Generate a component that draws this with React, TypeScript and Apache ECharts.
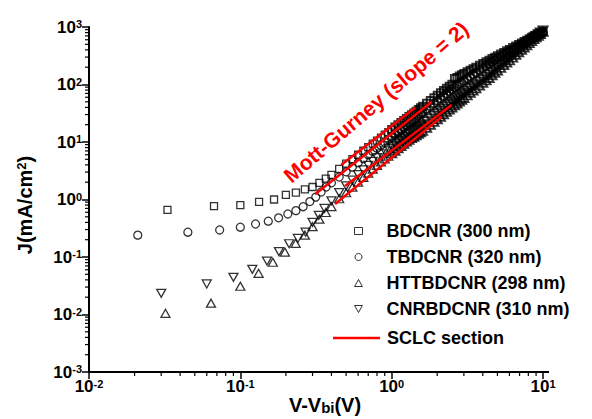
import React, { useEffect, useRef } from 'react';
import * as echarts from 'echarts';

const FONT = '"Liberation Sans", Arial, sans-serif';

// Shared voltage grid (V) for the dense high-field part of every curve
const voltageGrid = [
  0.4, 0.45, 0.5, 0.55, 0.6, 0.65, 0.7, 0.75, 0.8, 0.85, 0.9, 0.95, 1.0,
  1.05, 1.1, 1.15, 1.2, 1.25, 1.3, 1.35, 1.4, 1.45, 1.5, 1.55, 1.6,
  1.7, 1.8, 1.9, 2.0,
  2.1, 2.2, 2.3, 2.4, 2.5, 2.6, 2.7, 2.8, 2.9, 3.0,
  3.15, 3.3, 3.45, 3.6, 3.8, 4.0,
  4.2, 4.4, 4.6, 4.8, 5.0,
  5.25, 5.5, 5.75, 6.0,
  6.3, 6.6, 6.9, 7.2, 7.5, 7.8, 8.1, 8.4, 8.7, 9.0, 9.3, 9.6,
  10.0,
];

// BDCNR (300 nm) - squares
const bdcnrLowV = [0.033, 0.067, 0.1, 0.133, 0.167, 0.2, 0.233, 0.267, 0.3, 0.333, 0.367];
const bdcnrLowJ = [0.66, 0.77, 0.8, 0.91, 1.0, 1.2, 1.32, 1.5, 1.65, 1.95, 2.3];
const bdcnrJ = [
  2.69, 3.4, 4.19, 5.05, 6.0, 7.05, 8.15, 9.35, 10.6, 11.9, 13.4, 14.9, 16.5,
  18.2, 19.9, 21.8, 23.7, 25.7, 27.8, 29.9, 32.1, 34.4, 36.9, 39.3, 41.9,
  47.1, 52.8, 58.9, 65.2,
  71.6, 78.5, 85.9, 93.3, 101, 127, 133, 141, 148, 155,
  166, 177, 188, 200, 216, 232,
  248, 264, 282, 299, 317,
  339, 361, 385, 408,
  438, 468, 498, 527, 559, 590, 621, 654, 689, 721, 754, 789,
  836,
];

// TBDCNR (320 nm) - circles
const tbdcnrLowV = [0.021, 0.045, 0.073, 0.1, 0.126, 0.153, 0.179, 0.206, 0.233, 0.26, 0.288, 0.315, 0.342, 0.369];
const tbdcnrLowJ = [0.24, 0.27, 0.295, 0.33, 0.375, 0.42, 0.48, 0.56, 0.64, 0.75, 0.92, 1.1, 1.35, 1.65];
const tbdcnrJ = [
  1.95, 2.46, 3.03, 3.66, 4.36, 5.14, 5.96, 6.85, 7.8, 8.79, 9.89, 11.0, 12.2,
  13.6, 14.9, 16.4, 17.9, 19.5, 21.2, 22.9, 24.7, 26.6, 28.6, 30.6, 32.8,
  37.1, 41.8, 46.8, 52.0,
  57.4, 63.2, 69.5, 75.9, 82.4, 88.7, 94.8, 102, 108, 116,
  126, 138, 150, 162, 180, 197,
  213, 230, 248, 264, 282,
  304, 327, 350, 372,
  401, 431, 460, 490, 521, 552, 582, 617, 650, 682, 716, 752,
  798,
];

// HTTBDCNR (298 nm) - up triangles
const httLowV = [0.032, 0.064, 0.1, 0.132, 0.164, 0.197, 0.232, 0.267, 0.3, 0.333, 0.367];
const httLowJ = [0.0105, 0.0157, 0.031, 0.052, 0.081, 0.122, 0.173, 0.24, 0.337, 0.455, 0.594];
const httJ = [
  0.753, 1.03, 1.31, 1.64, 2.01, 2.42, 2.88, 3.38, 3.93, 4.5, 5.07, 5.7, 6.34,
  7.03, 7.74, 8.53, 9.31, 10.2, 10.9, 11.7, 12.3, 13.1, 13.9, 14.7, 15.6,
  17.7, 19.9, 22.4, 24.9,
  27.5, 30.3, 33.4, 36.6, 39.8, 43.3, 46.8, 50.5, 54.3, 58.3,
  64.6, 71.6, 78.3, 85.5, 96.2, 107,
  118, 130, 145, 160, 175,
  195, 217, 240, 263,
  294, 328, 363, 400, 441, 481, 525, 568, 614, 659, 706, 757,
  826,
];

// CNRBDCNR (310 nm) - down triangles
const cnrLowV = [0.03, 0.06, 0.09, 0.12, 0.15, 0.18, 0.21, 0.24, 0.27, 0.3, 0.33, 0.36];
const cnrLowJ = [0.0234, 0.034, 0.0444, 0.061, 0.085, 0.124, 0.17, 0.21, 0.27, 0.4, 0.53, 0.7];
const cnrJ = [
  0.948, 1.32, 1.73, 2.18, 2.71, 3.27, 3.93, 4.61, 5.36, 6.21, 7.0, 7.78, 8.55,
  9.48, 10.4, 11.4, 12.4, 13.6, 14.5, 15.5, 16.3, 17.3, 18.3, 19.3, 20.4,
  23.0, 25.7, 28.7, 31.7,
  34.9, 38.3, 42.0, 45.7, 49.5, 53.6, 57.7, 61.9, 66.4, 71.0,
  78.0, 85.9, 93.3, 101, 113, 124,
  136, 149, 165, 180, 197,
  218, 240, 265, 288,
  321, 357, 394, 433, 475, 516, 562, 607, 655, 702, 750, 803,
  875,
];

// SCLC (Mott-Gurney) fit segments: [V start, V end], [J start, J end]
const sclcV = [
  [0.463, 1.43],
  [0.312, 1.84],
  [0.423, 2.14],
  [0.492, 2.49],
];
const sclcJ = [
  [3.98, 39.5],
  [1.23, 50.2],
  [0.835, 27.5],
  [1.72, 44.0],
];

const seriesNames = ['BDCNR (300 nm)', 'TBDCNR (320 nm)', 'HTTBDCNR (298 nm)', 'CNRBDCNR (310 nm)'];
const sclcName = 'SCLC section';

const xMinorTicks = [
  0.02, 0.03, 0.04, 0.05, 0.06, 0.07, 0.08, 0.09,
  0.2, 0.3, 0.4, 0.5, 0.6, 0.7, 0.8, 0.9,
  2, 3, 4, 5, 6, 7, 8, 9,
];
const yMinorTicks = [
  0.002, 0.003, 0.004, 0.005, 0.006, 0.007, 0.008, 0.009,
  0.02, 0.03, 0.04, 0.05, 0.06, 0.07, 0.08, 0.09,
  0.2, 0.3, 0.4, 0.5, 0.6, 0.7, 0.8, 0.9,
  2, 3, 4, 5, 6, 7, 8, 9,
  20, 30, 40, 50, 60, 70, 80, 90,
  200, 300, 400, 500, 600, 700, 800, 900,
];

// points at or above this voltage overlap into the dense band
const DENSE_FROM = 1.0;

const pairs = (xs: number[], ys: number[]) => xs.map((x, i) => [x, ys[i]]);

const DOWN_TRIANGLE = 'path://M0,0L10,0L5,9Z';
const UP_TRIANGLE = 'path://M5,0L10,9L0,9Z';

function buildOption() {
  const scatterPair = (name: string, symbol: string, size: any, lowV: number[], lowJ: number[], gridJ: number[], rotate = 0) => {
    const all = [...pairs(lowV, lowJ), ...pairs(voltageGrid, gridJ)];
    const sparse = all.filter((p) => p[0] < DENSE_FROM);
    const dense = all.filter((p) => p[0] >= DENSE_FROM);
    const base = {
      name,
      type: 'scatter',
      symbol,
      symbolSize: size,
      symbolRotate: rotate,
      emphasis: { disabled: true },
      z: 2,
    };
    return [
      { ...base, data: sparse, itemStyle: { color: 'rgba(0,0,0,0)', borderColor: '#000', borderWidth: 1.3 } },
      { ...base, data: dense, itemStyle: { color: 'rgba(0,0,0,0)', borderColor: '#000', borderWidth: 2 } },
    ];
  };

  const sclcSeries = sclcV.map((vs, i) => ({
    name: sclcName,
    type: 'line',
    data: pairs(vs, sclcJ[i]),
    symbol: 'none',
    showSymbol: false,
    lineStyle: { color: '#ff0000', width: 2.5 },
    itemStyle: { color: '#ff0000' },
    emphasis: { disabled: true },
    z: 4,
  }));

  const labelRich = {
    b: { fontSize: 17, fontWeight: 'bold', fontFamily: FONT, color: '#000', lineHeight: 17 },
    s: {
      fontSize: 11, fontWeight: 'bold', fontFamily: FONT, color: '#000',
      verticalAlign: 'top', lineHeight: 11, padding: [0, 0, 8, 0],
    },
  };
  const expFormatter = (v: number) => `{b|10}{s|${Math.round(Math.log10(v))}}`;

  const legendText = (pad: number) => ({
    fontSize: 18, fontWeight: 'bold', fontFamily: FONT, color: '#000',
    padding: [0, 0, 0, pad],
  });

  return {
    animation: false,
    backgroundColor: '#fff',
    grid: { left: 89, top: 27, width: 454, height: 345 },
    xAxis: {
      type: 'log',
      logBase: 10,
      min: 0.01,
      max: 10,
      axisLine: { show: true, lineStyle: { color: '#000', width: 2 } },
      axisTick: { show: true, length: 7, lineStyle: { color: '#000', width: 1.5 } },
      minorTick: { show: false },
      splitLine: { show: false },
      axisLabel: { margin: 6, formatter: expFormatter, rich: labelRich },
    },
    yAxis: {
      type: 'log',
      logBase: 10,
      min: 0.001,
      max: 1000,
      axisLine: { show: true, lineStyle: { color: '#000', width: 2 } },
      axisTick: { show: true, length: 7, lineStyle: { color: '#000', width: 1.5 } },
      minorTick: { show: false },
      splitLine: { show: false },
      axisLabel: { margin: 7, formatter: expFormatter, rich: labelRich },
    },
    legend: [
      {
        data: [
          { name: seriesNames[0], icon: 'rect' },
          { name: seriesNames[1], icon: 'circle' },
          { name: seriesNames[2], icon: UP_TRIANGLE },
          { name: seriesNames[3], icon: DOWN_TRIANGLE },
        ],
        orient: 'vertical',
        left: 354,
        top: 222,
        padding: 0,
        itemWidth: 8,
        itemHeight: 7,
        itemGap: 8,
        selectedMode: false,
        itemStyle: { color: 'rgba(0,0,0,0)', borderColor: '#000', borderWidth: 1 },
        textStyle: legendText(19),
      },
      {
        data: [{ name: sclcName, icon: 'rect' }],
        orient: 'vertical',
        left: 333,
        top: 329,
        padding: 0,
        itemWidth: 47,
        itemHeight: 2.5,
        selectedMode: false,
        itemStyle: { color: '#ff0000', borderWidth: 0 },
        textStyle: legendText(2),
      },
    ],
    graphic: [
      {
        type: 'line',
        shape: { x1: 543, y1: 372, x2: 549, y2: 372 },
        style: { stroke: '#000', lineWidth: 2 },
      },
      {
        type: 'text',
        x: 376,
        y: 102,
        rotation: (40.5 * Math.PI) / 180,
        style: {
          text: 'Mott-Gurney (slope = 2)',
          fill: '#ff0000',
          font: `bold 21px ${FONT}`,
          align: 'center',
          verticalAlign: 'middle',
        },
        z: 10,
      },
      {
        type: 'text',
        x: 325,
        y: 405,
        style: {
          text: '{a|V-V}{sub|bi}{a|(V)}',
          align: 'center',
          verticalAlign: 'middle',
          rich: {
            a: { fontSize: 20, fontWeight: 'bold', fontFamily: FONT, fill: '#000', lineHeight: 20, verticalAlign: 'top' },
            sub: { fontSize: 15, fontWeight: 'bold', fontFamily: FONT, fill: '#000', lineHeight: 15, padding: [8, 0, 0, 0], verticalAlign: 'bottom' },
          },
        },
      },
      {
        type: 'text',
        x: 25,
        y: 205,
        rotation: Math.PI / 2,
        style: {
          text: '{a|J(mA/cm}{s|2}{a|)}',
          align: 'center',
          verticalAlign: 'middle',
          rich: {
            a: { fontSize: 20, fontWeight: 'bold', fontFamily: FONT, fill: '#000', lineHeight: 20 },
            s: { fontSize: 13, fontWeight: 'bold', fontFamily: FONT, fill: '#000', lineHeight: 13, verticalAlign: 'top', padding: [0, 0, 9, 0] },
          },
        },
      },
    ],
    series: [
      ...scatterPair(seriesNames[0], 'rect', 7, bdcnrLowV, bdcnrLowJ, bdcnrJ),
      ...scatterPair(seriesNames[1], 'circle', 8, tbdcnrLowV, tbdcnrLowJ, tbdcnrJ),
      ...scatterPair(seriesNames[2], 'triangle', [9, 8], httLowV, httLowJ, httJ),
      ...scatterPair(seriesNames[3], 'triangle', [9, 8], cnrLowV, cnrLowJ, cnrJ, 180),
      ...sclcSeries,
      {
        type: 'custom',
        silent: true,
        clip: false,
        z: 5,
        data: xMinorTicks.map((v) => [v, 0.001]),
        renderItem: (_p: any, api: any) => {
          const p = api.coord([api.value(0), api.value(1)]);
          return {
            type: 'line',
            shape: { x1: p[0], y1: p[1], x2: p[0], y2: p[1] + 4 },
            style: { stroke: '#000', lineWidth: 1.2 },
          };
        },
      },
      {
        type: 'custom',
        silent: true,
        clip: false,
        z: 5,
        data: yMinorTicks.map((v) => [0.01, v]),
        renderItem: (_p: any, api: any) => {
          const p = api.coord([api.value(0), api.value(1)]);
          return {
            type: 'line',
            shape: { x1: p[0] - 4, y1: p[1], x2: p[0], y2: p[1] },
            style: { stroke: '#000', lineWidth: 1.2 },
          };
        },
      },
    ],
  };
}

export default function App() {
  const ref = useRef<HTMLDivElement>(null);
  useEffect(() => {
    if (!ref.current) return;
    const chart = echarts.init(ref.current, null, { renderer: 'svg' });
    chart.setOption(buildOption() as any);
    return () => chart.dispose();
  }, []);
  return (
    <div
      ref={ref}
      style={{ position: 'fixed', left: 0, top: 0, width: 592, height: 419, background: '#fff' }}
    />
  );
}
